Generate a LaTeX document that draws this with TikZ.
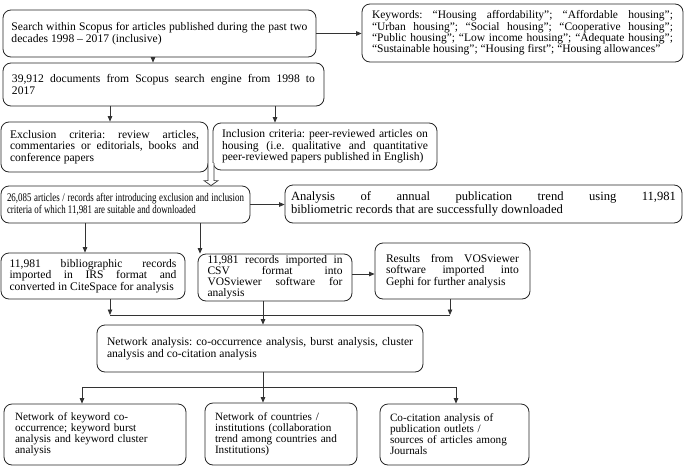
\documentclass[tikz,border=0pt]{standalone}
\usepackage{fontspec}
\setmainfont{Liberation Serif}
\newfontfamily\CondFont[FakeStretch=0.76]{Liberation Serif}
\usetikzlibrary{arrows.meta,calc}
\tolerance=9999 \hbadness=10000 \hyphenpenalty=10000 \exhyphenpenalty=10000
\tikzset{
  bx/.style={draw=black!85, line width=0.8pt, rounded corners=8pt, inner ysep=0pt, align=justify,
    font=\fontsize{11.6}{11.6}\selectfont\frenchspacing},
  cond/.style={font=\CondFont\fontsize{11.7}{11.8}\selectfont\frenchspacing},
  btm/.style={align=left, font=\fontsize{11.2}{11}\selectfont\frenchspacing},
  ar/.style={draw=black!80, line width=0.75pt, -{Triangle[length=5.5pt,width=4.5pt]}},
  ln/.style={draw=black!80, line width=0.75pt},
}
\begin{document}
\begin{tikzpicture}[x=1pt,y=-1pt]
\fill[white] (0,0) rectangle (685,466);
\useasboundingbox (0,0) rectangle (685,466);

\node[bx, text width=296pt, inner xsep=8.5pt, minimum height=47pt] (search) at (159.5,33.5)
 {Search within Scopus for articles published during the past two\linebreak decades 1998 – 2017 (inclusive)};
\node[bx, text width=301pt, inner xsep=10pt, minimum height=58pt, font=\fontsize{11.5}{11.4}\selectfont\frenchspacing] (keywords) at (522.5,33)
 {Keywords: “Housing affordability”; “Affordable housing”;\linebreak “Urban housing”; “Social housing”; “Cooperative housing”;\linebreak “Public housing”; “Low income housing”; “Adequate housing”;\linebreak “Sustainable housing”; “Housing first”; “Housing allowances”};
\node[bx, text width=303pt, inner xsep=9pt, minimum height=43pt] (docs) at (163.5,84.5)
 {39,912 documents from Scopus search engine from 1998 to\linebreak 2017};
\node[bx, text width=189pt, inner xsep=9pt, minimum height=50pt] (excl) at (104.5,147)
 {Exclusion criteria: review articles,\linebreak commentaries or editorials, books and\linebreak conference papers};
\node[bx, text width=206pt, inner xsep=9pt, minimum height=47pt] (incl) at (325,146.5)
 {Inclusion criteria: peer-reviewed articles on\linebreak housing (i.e. qualitative and quantitative\linebreak peer-reviewed papers published in English)};
\node[bx, cond, text width=237pt, inner xsep=6pt, minimum height=37pt] (recs) at (125.5,204.5)
 {26,085 articles / records after introducing exclusion and inclusion\linebreak criteria of which 11,981 are suitable and downloaded};
\node[bx, text width=385pt, inner xsep=6pt, minimum height=38pt, font=\fontsize{12.6}{12.2}\selectfont\frenchspacing] (trend) at (483.5,204)
 {Analysis of annual publication trend using 11,981\linebreak bibliometric records that are successfully downloaded};
\node[bx, text width=167pt, inner xsep=8.5pt, minimum height=46pt] (irs) at (93,276)
 {11,981 bibliographic records\linebreak imported in IRS format and\linebreak converted in CiteSpace for analysis};
\node[bx, text width=135pt, inner xsep=9.5pt, minimum height=47pt, font=\fontsize{11.5}{11}\selectfont\frenchspacing] (csv) at (275,277.5)
 {11,981 records imported in\linebreak CSV format into\linebreak VOSviewer software for\linebreak analysis};
\node[bx, text width=133pt, inner xsep=11pt, minimum height=56pt] (results) at (452.5,271)
 {Results from VOSviewer\linebreak software imported into\linebreak Gephi for further analysis};
\node[bx, text width=306pt, inner xsep=10pt, minimum height=47pt] (network) at (260,348.5)
 {Network analysis: co-occurrence analysis, burst analysis, cluster\linebreak analysis and co-citation analysis};
\node[bx, btm, text width=160pt, inner xsep=11pt, minimum height=61pt] (kw) at (95,434.5)
 {Network of keyword co-\\occurrence; keyword burst\\analysis and keyword cluster\\analysis};
\node[bx, btm, text width=132pt, inner xsep=10pt, minimum height=62pt] (mid) at (281,434)
 {Network of countries /\\institutions (collaboration\\trend among countries and\\Institutions)};
\node[bx, btm, text width=129pt, inner xsep=10pt, minimum height=61pt] (cocit) at (454.5,434.5)
 {Co-citation analysis of\\publication outlets /\\sources of articles among\\Journals};

% helper coordinates
\coordinate (x153) at (153,0);
\coordinate (x110) at (110,0);
\coordinate (x275) at (275,0);
\coordinate (x85) at (85,0);
\coordinate (x200) at (200,0);
\coordinate (x263) at (263,0);
\coordinate (y274) at (0,274);
\coordinate (m1) at (110,315);
\coordinate (m2) at (450,315);
\coordinate (b1) at (82,387);
\coordinate (b2) at (456,387);
\coordinate (hs) at (211,163);
\coordinate (ht) at (recs.north -| hs);

\draw[ar] (search.east) -- (search.east -| keywords.west);
\draw[ar] (search.south -| x153) -- (docs.north -| x153);
\draw[ar] (docs.south -| x110) -- (excl.north -| x110);
\draw[ar] (docs.south -| x275) -- (incl.north -| x275);
\draw[line width=0.7pt, draw=black!80, fill=white]
  ($(hs)+(-3,0)$) -- ($(ht)+(-3,-5)$) -- ($(ht)+(-7,-5)$) -- (ht) -- ($(ht)+(7,-5)$) -- ($(ht)+(3,-5)$) -- ($(hs)+(3,0)$);
\draw[ar] (recs.east) -- (recs.east -| trend.west);
\draw[ar] (recs.south -| x85) -- (irs.north -| x85);
\draw[ar] (recs.south -| x200) -- (csv.north -| x200);
\draw[ar] (csv.east |- y274) -- (results.west |- y274);
\draw[ar] (irs.south -| m1) -- (m1);
\draw[ar] (results.south -| m2) -- (m2);
\draw[ln] (m1) -- (m2);
\draw[ar] (csv.south -| x263) -- (network.north -| x263);
\draw[ln] (b1) -- (b2);
\draw[ar] (b1) -- (kw.north -| b1);
\draw[ar] (b2) -- (cocit.north -| b2);
\draw[ar] (network.south -| x263) -- (mid.north -| x263);
\end{tikzpicture}
\end{document}
